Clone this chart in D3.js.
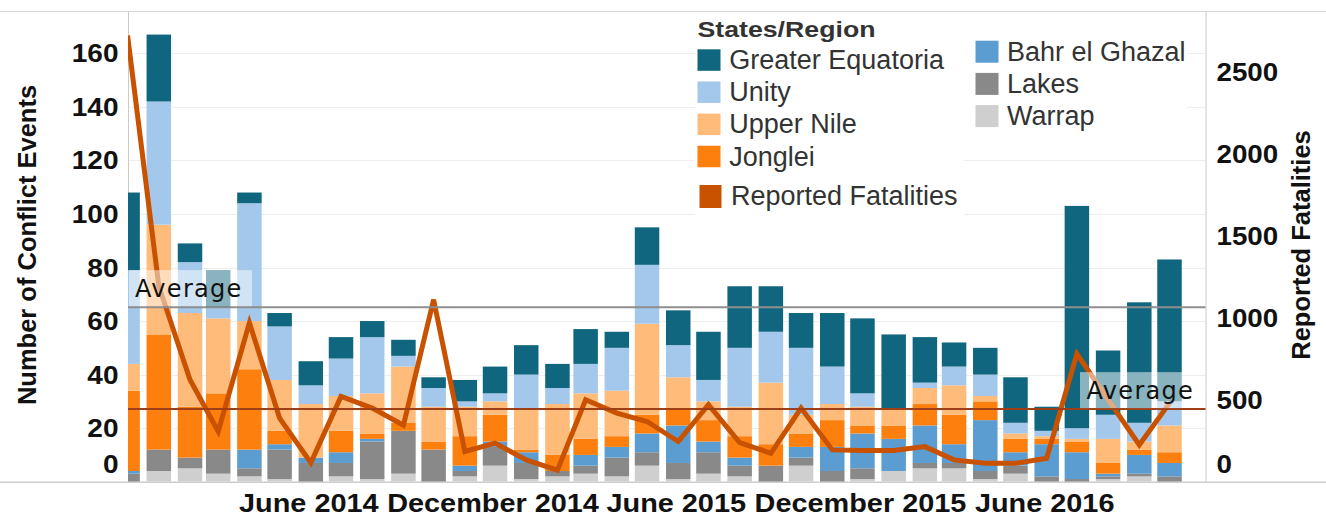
<!DOCTYPE html>
<html>
<head>
<meta charset="utf-8">
<script src="https://cdn.jsdelivr.net/npm/d3@7"></script>
<style>
  body { margin: 0; background: #fff; }
  svg { display: block; font-family: "Liberation Sans", Arial, sans-serif; }
</style>
</head>
<body>
<div id="chart"></div>
<script>
// months, Dec 2013 .. Oct 2016
var months = ["2013-12",
  "2014-01","2014-02","2014-03","2014-04","2014-05","2014-06","2014-07","2014-08","2014-09","2014-10","2014-11","2014-12",
  "2015-01","2015-02","2015-03","2015-04","2015-05","2015-06","2015-07","2015-08","2015-09","2015-10","2015-11","2015-12",
  "2016-01","2016-02","2016-03","2016-04","2016-05","2016-06","2016-07","2016-08","2016-09","2016-10"];

// conflict events per state/region
var greaterEquatoria = [29,25,7,14,4,5,9,8,6,6,4,8,10,11,9,13,6,14,13,18,23,17,13,20,28,28,17,9,10,17,9,83,24,45,53];
var unity            = [35,46,19,4,44,20,7,14,21,4,7,2,3,13,6,11,16,22,12,8,22,19,25,14,5,0,2,7,8,4,2,4,9,7,9];
var upperNile        = [10,41,35,28,18,19,20,13,15,21,13,11,5,15,19,17,17,34,12,7,11,23,7,6,7,6,6,11,2,2,1,1,9,3,10];
var jonglei          = [30,43,19,21,30,5,0,8,2,3,3,11,10,1,6,6,4,7,6,8,8,8,5,10,3,5,8,11,7,5,2,4,4,2,4];
var bahrElGhazal     = [1,0,0,0,7,2,2,4,1,0,0,2,2,4,0,4,4,7,14,4,3,0,4,9,13,12,14,7,19,5,12,10,1,7,5];
var lakes            = [3,8,4,9,3,11,7,5,14,16,12,2,7,6,2,3,7,5,6,8,4,6,3,4,4,0,2,2,3,3,2,1,1,1,2];
var warrap           = [0,4,5,3,2,1,0,2,1,3,0,2,6,1,2,3,2,6,1,3,2,0,6,0,1,4,5,5,1,3,0,0,1,2,0];

// reported fatalities (right axis)
var fatalities = [2720,1193,622,306,969,388,116,520,449,344,1110,184,235,133,71,500,418,367,245,469,239,173,449,194,190,190,214,133,112,112,143,780,500,224,479];

var leftTicks = [0,20,40,60,80,100,120,140,160];
var rightTicks = [0,500,1000,1500,2000,2500];
var dateTicks = ["2014-06","2014-12","2015-06","2015-12","2016-06"];
var dateTickLabels = ["June 2014","December 2014","June 2015","December 2015","June 2016"];

var series = [
  {key: "warrap", name: "Warrap", color: "#cfcfcf", values: warrap},
  {key: "lakes", name: "Lakes", color: "#898989", values: lakes},
  {key: "bahrElGhazal", name: "Bahr el Ghazal", color: "#5c9dd1", values: bahrElGhazal},
  {key: "jonglei", name: "Jonglei", color: "#fd800f", values: jonglei},
  {key: "upperNile", name: "Upper Nile", color: "#ffbb79", values: upperNile},
  {key: "unity", name: "Unity", color: "#a3c8eb", values: unity},
  {key: "greaterEquatoria", name: "Greater Equatoria", color: "#10667f", values: greaterEquatoria}
];
var fatalColor = "#c85200";

var width = 1326, height = 519;
var plotLeft = 128, plotRight = 1205.5, plotTop = 11, plotBottom = 481.7;
var barWidth = 24.5;

var svg = d3.select("#chart").append("svg")
    .attr("width", width)
    .attr("height", height);

var parse = d3.utcParse("%Y-%m");
var rows = months.map(function(m, i) {
  var r = {date: parse(m), fatalities: fatalities[i]};
  series.forEach(function(s) { r[s.key] = s.values[i]; });
  return r;
});

var x = d3.scaleUtc()
    .domain([parse(months[0]), parse(months[months.length - 1])])
    .range([127.6, 1169.5]);
var yL = d3.scaleLinear().domain([0, 175.8]).range([plotBottom, plotTop]);
var yR = d3.scaleLinear().domain([0, 2870]).range([plotBottom, plotTop]);

// clip
svg.append("clipPath").attr("id", "plot-clip")
  .append("rect")
    .attr("x", plotLeft).attr("y", plotTop)
    .attr("width", plotRight - plotLeft).attr("height", plotBottom - plotTop);

// gridlines
svg.append("g").selectAll("line")
  .data(leftTicks.filter(function(t) { return t > 0; }))
  .enter().append("line")
    .attr("x1", plotLeft).attr("x2", plotRight)
    .attr("y1", function(d) { return Math.round(yL(d)) + 0.5; })
    .attr("y2", function(d) { return Math.round(yL(d)) + 0.5; })
    .attr("stroke", "#eeeeee");

// frame lines
svg.append("line").attr("x1", 0).attr("x2", width).attr("y1", plotTop + 0.5).attr("y2", plotTop + 0.5)
    .attr("stroke", "#d6d6d6");
svg.append("line").attr("x1", 0).attr("x2", width).attr("y1", plotBottom + 0.5).attr("y2", plotBottom + 0.5)
    .attr("stroke", "#cdcdcd").attr("stroke-width", 1.5);
[plotLeft, plotRight].forEach(function(px) {
  svg.append("line").attr("x1", px + 0.5).attr("x2", px + 0.5).attr("y1", plotTop).attr("y2", plotBottom)
      .attr("stroke", "#cacaca");
});

// legend backgrounds (cover gridlines)
svg.append("rect").attr("x", 695).attr("y", plotTop + 1).attr("width", 269).attr("height", 204).attr("fill", "#fff");
svg.append("rect").attr("x", 964).attr("y", plotTop + 1).attr("width", 223).attr("height", 129).attr("fill", "#fff");

// stacked bars
var stack = d3.stack().keys(series.map(function(s) { return s.key; }));
var layers = stack(rows);

var plot = svg.append("g").attr("clip-path", "url(#plot-clip)");

plot.selectAll("g.layer")
  .data(layers)
  .enter().append("g")
    .attr("class", "layer")
    .attr("fill", function(d, i) { return series[i].color; })
  .selectAll("rect")
  .data(function(d) { return d; })
  .enter().append("rect")
    .attr("x", function(d) { return x(d.data.date) - barWidth / 2; })
    .attr("width", barWidth)
    .attr("y", function(d) { return yL(d[1]); })
    .attr("height", function(d) { return yL(d[0]) - yL(d[1]); });

// average lines
var avgEvents = d3.mean(rows, function(r) { return d3.sum(series, function(s) { return r[s.key]; }); });
var avgFatal = d3.mean(fatalities);

svg.append("line")
    .attr("x1", plotLeft).attr("x2", plotRight)
    .attr("y1", yL(avgEvents)).attr("y2", yL(avgEvents))
    .attr("stroke", "#8e8e8e").attr("stroke-width", 2);
svg.append("line")
    .attr("x1", plotLeft).attr("x2", plotRight)
    .attr("y1", yR(avgFatal)).attr("y2", yR(avgFatal))
    .attr("stroke", "#9e3f17").attr("stroke-width", 2);

// fatalities line
var line = d3.line()
    .x(function(d) { return x(d.date); })
    .y(function(d) { return yR(d.fatalities); });

plot.append("path")
    .datum(rows)
    .attr("fill", "none")
    .attr("stroke", fatalColor)
    .attr("stroke-width", 5)
    .attr("stroke-linejoin", "miter")
    .attr("stroke-miterlimit", 4)
    .attr("d", line);

// average labels
function avgLabel(boxX, boxW, textX, yLine) {
  svg.append("rect")
      .attr("x", boxX).attr("y", yLine - 37)
      .attr("width", boxW).attr("height", 36)
      .attr("fill", "#fff").attr("fill-opacity", 0.5);
  svg.append("text")
      .attr("x", textX).attr("y", yLine - 10.5)
      .attr("font-family", "'DejaVu Sans', Verdana, sans-serif")
      .attr("font-size", 24)
      .attr("letter-spacing", 1.3)
      .attr("fill", "#111")
      .text("Average");
}
avgLabel(plotLeft + 1, 123, 135, yL(avgEvents));
avgLabel(1080, 102, 1086.5, yR(avgFatal));

// left axis labels
svg.append("g").selectAll("text")
  .data(leftTicks)
  .enter().append("text")
    .attr("transform", function(d) {
      return "translate(118.5," + (yL(d) + (d === 0 ? -17.5 : 0)) + ") scale(1.12,1)";
    })
    .attr("dy", "0.36em")
    .attr("text-anchor", "end")
    .attr("font-weight", "bold")
    .attr("font-size", 25)
    .attr("fill", "#111")
    .text(function(d) { return d; });

// right axis labels
svg.append("g").selectAll("text")
  .data(rightTicks)
  .enter().append("text")
    .attr("transform", function(d) {
      return "translate(1216.5," + (yR(d) + (d === 0 ? -17.5 : 0)) + ") scale(1.11,1)";
    })
    .attr("dy", "0.36em")
    .attr("text-anchor", "start")
    .attr("font-weight", "bold")
    .attr("font-size", 25)
    .attr("fill", "#111")
    .text(function(d) { return d; });

// x axis labels
svg.append("g").selectAll("text")
  .data(dateTicks)
  .enter().append("text")
    .attr("transform", function(d) { return "translate(" + (x(parse(d)) - 2) + ",511.5) scale(1.11,1)"; })
    .attr("text-anchor", "middle")
    .attr("font-weight", "bold")
    .attr("font-size", 26)
    .attr("fill", "#111")
    .text(function(d, i) { return dateTickLabels[i]; });

// axis titles
svg.append("text")
    .attr("transform", "translate(36,245) rotate(-90)")
    .attr("text-anchor", "middle")
    .attr("font-weight", "bold")
    .attr("font-size", 25.5)
    .attr("fill", "#111")
    .text("Number of Conflict Events");
svg.append("text")
    .attr("transform", "translate(1310,245) rotate(-90)")
    .attr("text-anchor", "middle")
    .attr("font-weight", "bold")
    .attr("font-size", 25.5)
    .attr("fill", "#111")
    .text("Reported Fatalities");

// legend
var legend = svg.append("g").attr("fill", "#333");
legend.append("text")
    .attr("x", 697.5).attr("y", 36.7)
    .attr("font-weight", "bold")
    .attr("font-size", 22)
    .attr("textLength", 178)
    .attr("lengthAdjust", "spacingAndGlyphs")
    .text("States/Region");

var leftCol = ["greaterEquatoria", "unity", "upperNile", "jonglei"];
var rightCol = ["bahrElGhazal", "lakes", "warrap"];
function seriesByKey(k) { return series.filter(function(s) { return s.key === k; })[0]; }

leftCol.forEach(function(k, i) {
  var s = seriesByKey(k), top = 49.3 + i * 32.15;
  legend.append("rect").attr("x", 697.5).attr("y", top).attr("width", 23).attr("height", 21.5).attr("fill", s.color);
  legend.append("text").attr("x", 729.3).attr("y", top + 19.8).attr("font-size", 27).text(s.name);
});
rightCol.forEach(function(k, i) {
  var s = seriesByKey(k), top = 40.7 + i * 32.2;
  legend.append("rect").attr("x", 975.5).attr("y", top).attr("width", 23).attr("height", 22).attr("fill", s.color);
  legend.append("text").attr("x", 1007).attr("y", top + 19.8).attr("font-size", 27).text(s.name);
});
legend.append("rect").attr("x", 699.5).attr("y", 185).attr("width", 22).attr("height", 23).attr("fill", fatalColor);
legend.append("text").attr("x", 731).attr("y", 204.5).attr("font-size", 27).text("Reported Fatalities");
</script>
</body>
</html>
